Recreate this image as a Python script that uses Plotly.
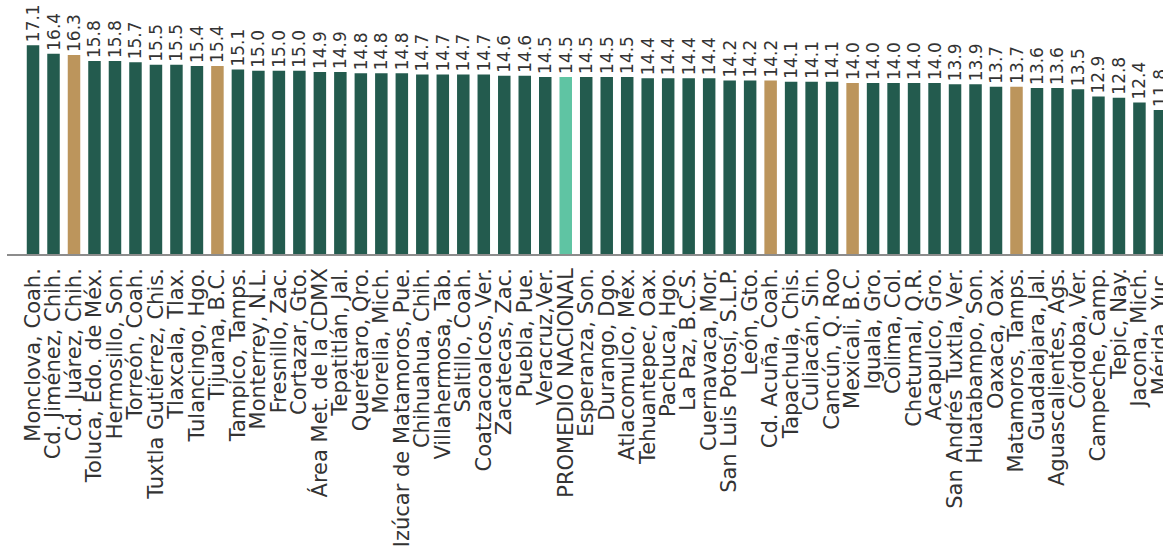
import plotly.graph_objects as go

# datos
ciudades = [
    'Monclova, Coah.', 'Cd. Jiménez, Chih.', 'Cd. Juárez, Chih.', 'Toluca, Edo. de Méx.',
    'Hermosillo, Son.', 'Torreón, Coah.', 'Tuxtla Gutiérrez, Chis.', 'Tlaxcala, Tlax.',
    'Tulancingo, Hgo.', 'Tijuana, B.C.', 'Tampico, Tamps.', 'Monterrey, N.L.',
    'Fresnillo, Zac.', 'Cortazar, Gto.', 'Área Met. de la CDMX', 'Tepatitlán, Jal.',
    'Querétaro, Qro.', 'Morelia, Mich.', 'Izúcar de Matamoros, Pue.', 'Chihuahua, Chih.',
    'Villahermosa, Tab.', 'Saltillo, Coah.', 'Coatzacoalcos, Ver.', 'Zacatecas, Zac.',
    'Puebla, Pue.', 'Veracruz,Ver.', 'PROMEDIO NACIONAL', 'Esperanza, Son.',
    'Durango, Dgo.', 'Atlacomulco, Méx.', 'Tehuantepec, Oax.', 'Pachuca, Hgo.',
    'La Paz, B.C.S.', 'Cuernavaca, Mor.', 'San Luis Potosí, S.L.P.', 'León, Gto.',
    'Cd. Acuña, Coah.', 'Tapachula, Chis.', 'Culiacán, Sin.', 'Cancún, Q. Roo',
    'Mexicali, B.C.', 'Iguala, Gro.', 'Colima, Col.', 'Chetumal, Q.R.',
    'Acapulco, Gro.', 'San Andrés Tuxtla, Ver.', 'Huatabampo, Son.', 'Oaxaca, Oax.',
    'Matamoros, Tamps.', 'Guadalajara, Jal.', 'Aguascalientes, Ags.', 'Córdoba, Ver.',
    'Campeche, Camp.', 'Tepic, Nay.', 'Jacona, Mich.', 'Mérida, Yuc.',
]
valores = [
    17.1, 16.4, 16.3, 15.8, 15.8, 15.7, 15.5, 15.5, 15.4, 15.4, 15.1, 15.0, 15.0, 15.0,
    14.9, 14.9, 14.8, 14.8, 14.8, 14.7, 14.7, 14.7, 14.7, 14.6, 14.6, 14.5, 14.5, 14.5,
    14.5, 14.5, 14.4, 14.4, 14.4, 14.4, 14.2, 14.2, 14.2, 14.1, 14.1, 14.1, 14.0, 14.0,
    14.0, 14.0, 14.0, 13.9, 13.9, 13.7, 13.7, 13.6, 13.6, 13.5, 12.9, 12.8, 12.4, 11.8,
]
# ciudades fronterizas resaltadas
resaltadas = ['Cd. Juárez, Chih.', 'Tijuana, B.C.', 'Cd. Acuña, Coah.',
              'Mexicali, B.C.', 'Matamoros, Tamps.']
promedio = 'PROMEDIO NACIONAL'

VERDE = '#235b4e'
DORADO = '#bc955c'
TURQUESA = '#5fc4a3'
colores = [TURQUESA if c == promedio else DORADO if c in resaltadas else VERDE
           for c in ciudades]

fig = go.Figure()
fig.add_trace(go.Bar(
    x=ciudades, y=valores,
    marker=dict(color=colores, line=dict(width=0)),
    text=[f'{v:.1f}' for v in valores],
    textposition='outside', textangle=-90,
    constraintext='none',
    textfont=dict(family='DejaVu Sans', size=17, color='#333333'),
    cliponaxis=False,
))

fig.update_layout(
    width=1163, height=558,
    margin=dict(l=7, r=0, t=0, b=304),
    paper_bgcolor='white', plot_bgcolor='white',
    bargap=0.39,
    showlegend=False,
    xaxis=dict(
        range=[-1.27, 55.15],
        automargin=False,
        tickmode='linear', tick0=0, dtick=1,
        tickangle=-90,
        tickfont=dict(family='DejaVu Sans', size=21, color='#333333'),
        ticklabelstandoff=4,
        showline=True, linecolor='#8c8c8c', linewidth=1.5,
        showgrid=False, ticks='',
    ),
    yaxis=dict(
        range=[0, 20.8],
        visible=False,
        showgrid=False,
        automargin=False,
    ),
)

# sin margen del body para que la figura ocupe la ventana completa
fig.write_html('out.html', config={'displayModeBar': False},
               post_script="document.body.style.margin='0';")
